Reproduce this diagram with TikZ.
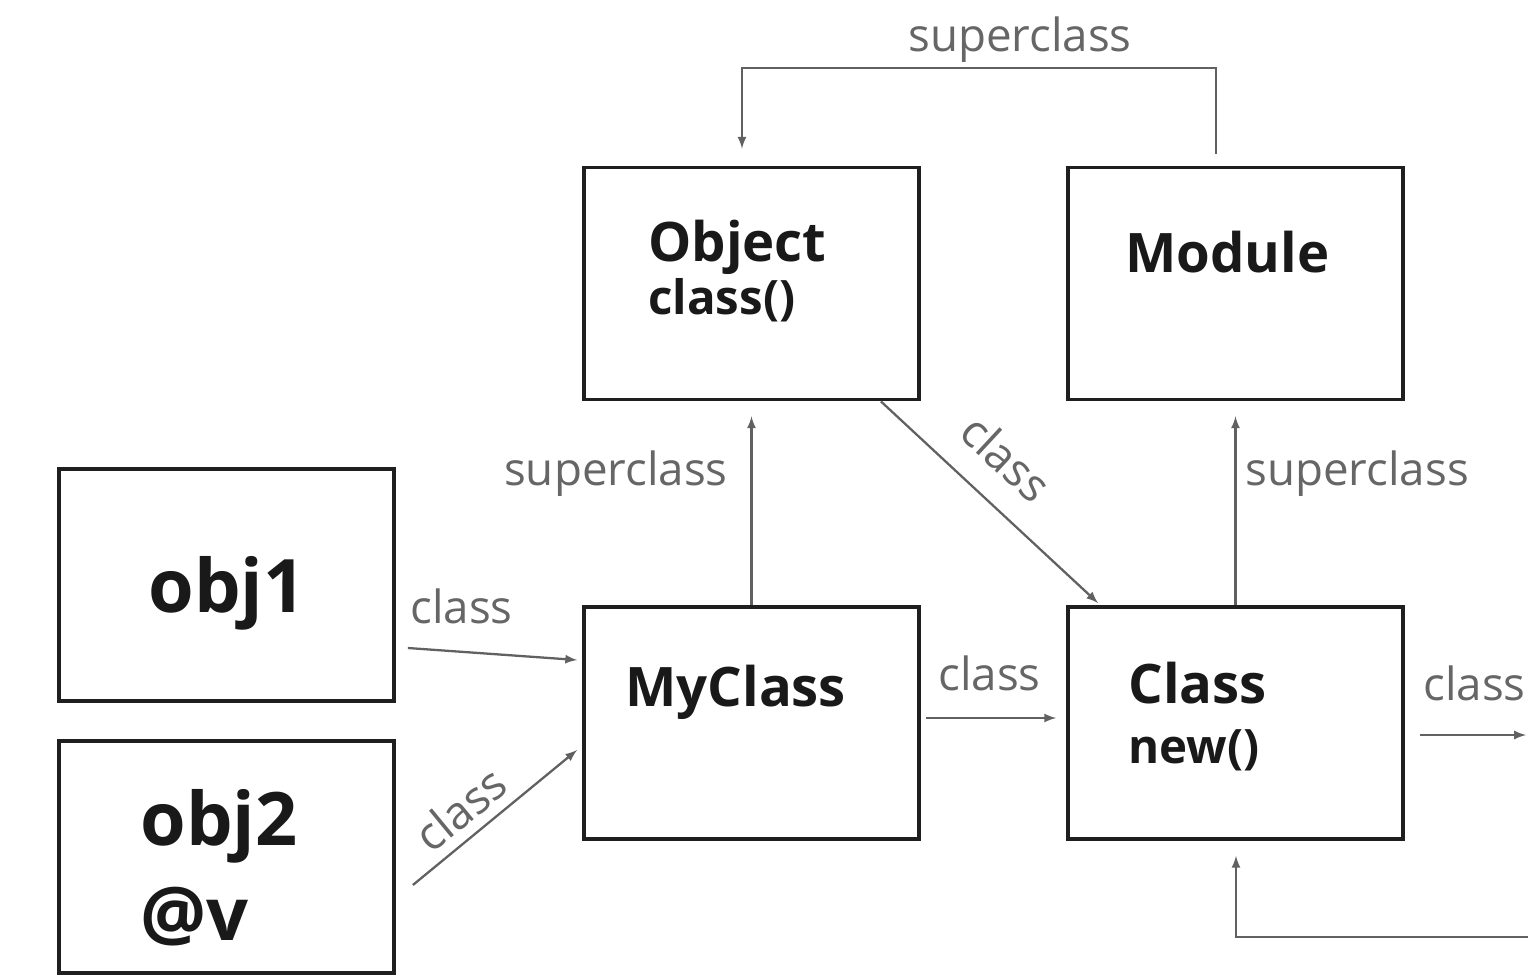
\documentclass[tikz,border=0pt]{standalone}
\usepackage{fontspec}
\setmainfont{Open Sans}
\tikzset{>=latex}
\colorlet{edge}{black!88}
\colorlet{wire}{black!62}
\tikzset{
  cbox/.style = {draw=edge, line width=2.2pt, minimum width=6.7cm,
                 minimum height=4.64cm, inner sep=0pt},
  title/.style = {anchor=base west, inner sep=0pt, text=black!90,
                  font=\bfseries\fontsize{31}{36}\selectfont},
  meth/.style  = {anchor=base west, inner sep=0pt, text=black!90,
                  font=\bfseries\fontsize{27}{32}\selectfont},
  inst/.style  = {anchor=base west, inner sep=0pt, text=black!90,
                  font=\bfseries\fontsize{42}{48}\selectfont},
  lbl/.style   = {inner sep=0pt, text=black!60,
                  font=\fontsize{26}{30}\selectfont},
  link/.style  = {->, draw=wire, line width=1.3pt}
}

\begin{document}
\begin{tikzpicture}[x=0.02cm,y=-0.02cm]
  \useasboundingbox (0,0) rectangle (1528,976);
  \clip (0,0) rectangle (1528,976);
  % boxes
  \node[cbox] (obj1) at (226.5,585) {};
  \node[cbox] (obj2) at (226.5,857) {};
  \node[cbox] (obj)  at (751.5,283.5) {};
  \node[cbox] (mod)  at (1235.5,283.5) {};
  \node[cbox] (mycls) at (751.5,723) {};
  \node[cbox] (cls)  at (1235.5,723) {};
  % box texts
  \node[inst]  (t1)  at (148,612) {obj1};
  \node[inst]  (t2)  at (140,845) {obj2};
  \node[inst]  (t2v) at (140,940) {@v};
  \node[title] (tob) at (648,262) {Object};
  \node[meth]  (tom) at (648,315) {class()};
  \node[title] (tmo) at (1125,273) {Module};
  \node[title] (tmy) at (625,706) {MyClass};
  \node[title] (tcl) at (1128,703) {Class};
  \node[meth]  (tcn) at (1128,763) {new()};
  % turning points
  \coordinate (topR) at (1216,68);
  \coordinate (topL) at (742,68);
  \coordinate (rgt)  at (1526,735);
  \coordinate (botR) at (1560,937);
  \coordinate (botL) at (1236,937);
  % superclass links
  \draw[link, shorten <=0.24cm, shorten >=0.34cm]
    (mod.north -| topR) -- (topR) -- (topL) -- (obj.north -| topL);
  \node[lbl, anchor=base] (sup1) at (1020,52) {superclass};
  \draw[link, shorten >=0.3cm] (mycls.north) -- (obj.south);
  \node[lbl, anchor=base east] (sup2) at (728,485) {superclass};
  \draw[link, shorten >=0.3cm] (cls.north) -- (mod.south);
  \node[lbl, anchor=base west] (sup3) at (1245,485) {superclass};
  % class links
  \draw[link] ([shift={(-40,0)}]obj.south east) -- ([shift={(32,-2)}]cls.north west)
    node[lbl, pos=0.44, above=0.5cm, sloped] (c1) {class};
  \draw[link] ([shift={(12,63)}]obj1.east) -- ([shift={(-5,-63)}]mycls.west);
  \node[lbl, anchor=base west] (c2) at (410,623) {class};
  \draw[link] ([shift={(17,28)}]obj2.east) -- ([shift={(-5,27)}]mycls.west)
    node[lbl, pos=0.4, above=0.2cm, sloped] (c3) {class};
  \draw[link, shorten <=0.1cm, shorten >=0.2cm]
    ([shift={(0,-5)}]mycls.east) -- ([shift={(0,-5)}]cls.west);
  \node[lbl, anchor=base west] (c4) at (938,690) {class};
  \draw[link, shorten <=0.3cm] ([shift={(0,12)}]cls.east) -- (rgt);
  \node[lbl, anchor=base west] (c5) at (1423,700) {class};
  \draw[link, shorten >=0.3cm] (botR) -- (botL) -- (cls.south -| botL);
\end{tikzpicture}
\end{document}
